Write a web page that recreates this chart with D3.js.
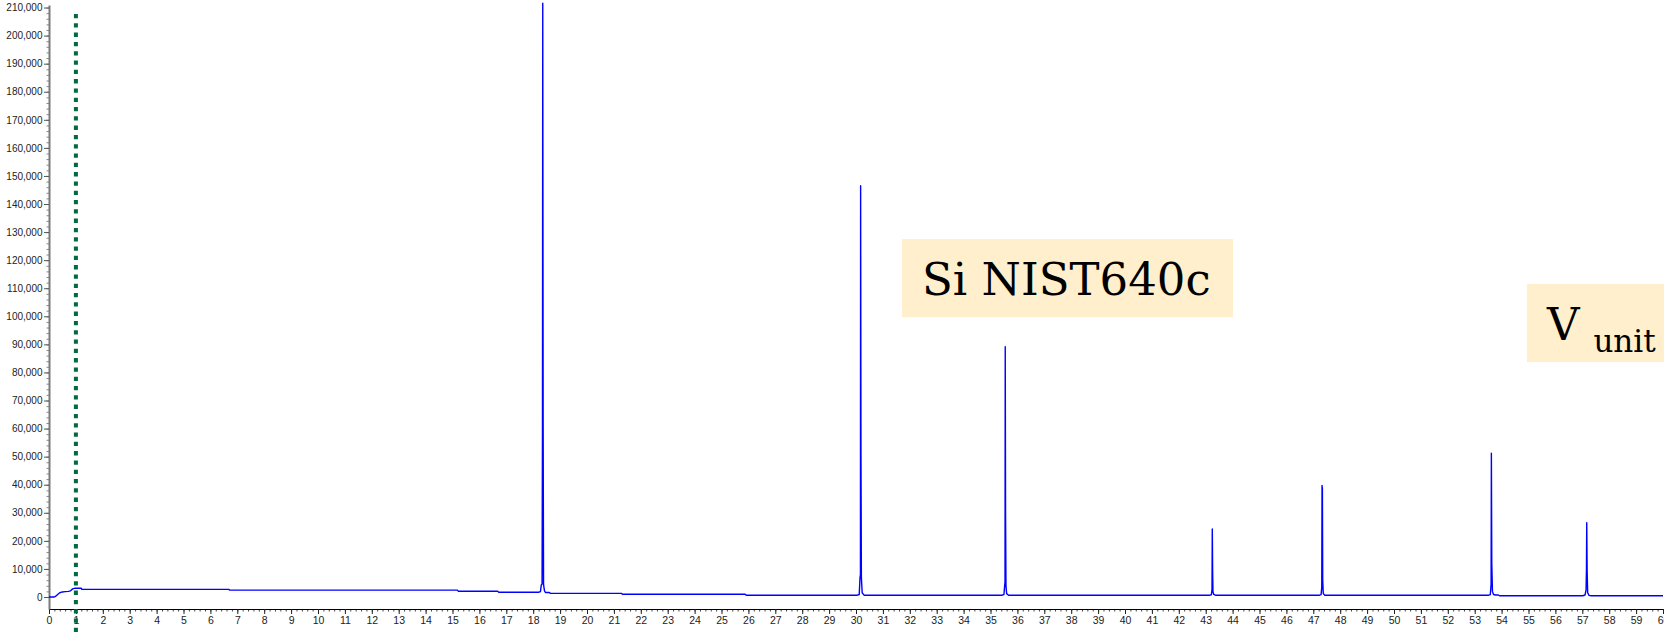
<!DOCTYPE html>
<html>
<head>
<meta charset="utf-8">
<script src="https://cdn.jsdelivr.net/npm/d3@7"></script>
<style>
  html, body { margin: 0; padding: 0; background: #ffffff; }
  svg { display: block; }
</style>
</head>
<body>
<svg id="chart" width="1664" height="634"></svg>
<script>
// Powder diffraction scan: [2θ (deg), intensity (counts)]
const scan = [
  [0, 0], [0.2, 0], [0.25, 300], [0.32, 900], [0.4, 1500], [0.5, 1800], [0.6, 1900],
  [0.72, 2000], [0.8, 2200], [0.88, 2900], [0.95, 3100], [1.2, 3100], [1.22, 2700],
  [6.68, 2700], [6.72, 2450], [15.18, 2450], [15.22, 2050], [16.68, 2050], [16.72, 1700],
  // Si (111)
  [18.2, 1700], [18.27, 1900], [18.3, 4300], [18.33, 4600], [18.345, 60000], [18.355, 211500],
  [18.37, 60000], [18.385, 4400], [18.42, 2200], [18.46, 1600], [18.6, 1600], [18.64, 1300],
  [21.28, 1300], [21.32, 1000], [25.88, 1000], [25.92, 650],
  // Si (220)
  [30.05, 650], [30.12, 900], [30.15, 7000], [30.165, 8000], [30.172, 146500], [30.185, 50000],
  [30.2, 7000], [30.23, 1500], [30.3, 650],
  // Si (311)
  [35.43, 650], [35.5, 900], [35.53, 4500], [35.54, 5200], [35.548, 89200], [35.56, 30000],
  [35.575, 4000], [35.6, 1200], [35.67, 650],
  // Si (400)
  [43.15, 650], [43.21, 800], [43.235, 2600], [43.245, 24200], [43.258, 9000], [43.27, 1800],
  [43.3, 900], [43.36, 650],
  // Si (331)
  [47.23, 650], [47.29, 850], [47.315, 3500], [47.325, 39700], [47.338, 38500], [47.35, 6000],
  [47.37, 1300], [47.42, 650],
  // Si (422)
  [53.52, 650], [53.58, 850], [53.61, 4500], [53.62, 51200], [53.635, 12000], [53.66, 2000],
  [53.7, 900], [53.78, 700], [53.88, 700], [53.92, 450],
  // Si (511)
  [57.02, 450], [57.1, 700], [57.14, 2500], [57.155, 10000], [57.165, 26500], [57.18, 9000],
  [57.2, 1500], [57.25, 600], [57.33, 450], [60, 450]
];

// Axis ticks
const xMajorTicks = d3.range(0, 61, 1);
const xMinorTicks = d3.range(0, 60.01, 0.2);
const yMajorTicks = d3.range(0, 210001, 10000);
const yMinorTicks = d3.range(0, 210001, 2000);

// Vertical marker at 2θ = 1°
const markerX = [1];

// Annotations: [label, subscript, 2θ of box left edge, intensity of box top edge]
const notes = [
  ["Si NIST640c", "", 31.71, 127500],
  ["V", "unit", 54.94, 111500]
];

const svg = d3.select("#chart");
const W = 1664, H = 634;

const x = d3.scaleLinear().domain([0, 60]).range([49, 1663]);
const y = d3.scaleLinear().domain([-4275, 210900]).range([609, 5]);

// x axis (black), major and minor ticks hanging below the line
const gx = svg.append("g").attr("transform", `translate(0,${y.range()[0]})`);
gx.call(d3.axisBottom(x).tickValues(xMinorTicks).tickSize(2.5).tickFormat(""))
  .call(g => g.select(".domain").remove())
  .call(g => g.selectAll(".tick line").attr("stroke", "#444").attr("stroke-width", 1));
const gx2 = svg.append("g").attr("transform", `translate(0,${y.range()[0]})`);
gx2.call(d3.axisBottom(x).tickValues(xMajorTicks).tickSize(5).tickSizeOuter(0).tickPadding(3).tickFormat(d3.format("d")))
  .call(g => g.select(".domain").attr("stroke", "#000").attr("stroke-width", 1.2))
  .call(g => g.selectAll(".tick line").attr("stroke", "#222"))
  .call(g => g.selectAll(".tick text")
      .attr("font-family", "'Liberation Sans', Arial, sans-serif")
      .attr("font-size", "10.5px").attr("fill", "#222"));

// y axis (grey line) with labelled majors and short minors
const gy = svg.append("g").attr("transform", `translate(${x.range()[0]},0)`);
gy.call(d3.axisLeft(y).tickValues(yMinorTicks).tickSize(2.5).tickFormat(""))
  .call(g => g.select(".domain").remove())
  .call(g => g.selectAll(".tick line").attr("stroke", "#888"));
const gy2 = svg.append("g").attr("transform", `translate(${x.range()[0]},0)`);
gy2.call(d3.axisLeft(y).tickValues(yMajorTicks).tickSize(5).tickSizeOuter(0).tickPadding(1.5).tickFormat(d3.format(",")))
  .call(g => g.select(".domain").attr("stroke", "#7a7a7a").attr("stroke-width", 2))
  .call(g => g.selectAll(".tick line").attr("stroke", "#555"))
  .call(g => g.selectAll(".tick text")
      .attr("font-family", "'Liberation Sans', Arial, sans-serif")
      .attr("font-size", "10px").attr("fill", "#222"));

// Diffraction trace
svg.append("defs").append("clipPath").attr("id", "plot-clip")
  .append("rect").attr("x", x.range()[0]).attr("y", 0)
  .attr("width", W - x.range()[0]).attr("height", y.range()[0]);

const line = d3.line().x(d => x(d[0])).y(d => y(d[1]));
svg.append("path")
  .datum(scan)
  .attr("clip-path", "url(#plot-clip)")
  .attr("fill", "none")
  .attr("stroke", "#0000ff")
  .attr("stroke-width", 1.4)
  .attr("stroke-linejoin", "round")
  .attr("d", line);

// Dotted green marker
svg.selectAll(".marker").data(markerX).join("line")
  .attr("class", "marker")
  .attr("x1", d => x(d)).attr("x2", d => x(d))
  .attr("y1", 14).attr("y2", H)
  .attr("stroke", "#006b3c")
  .attr("stroke-width", 4)
  .attr("stroke-dasharray", "4.3 5");

// Annotation boxes
const boxW = 331, boxH = 78;
const gn = svg.selectAll(".note").data(notes).join("g")
  .attr("class", "note")
  .attr("transform", d => `translate(${x(d[2])},${y(d[3])})`);
gn.append("rect")
  .attr("width", boxW).attr("height", boxH)
  .attr("fill", "#ffefcc");
const txt = gn.append("text")
  .attr("x", 20).attr("y", 56)
  .attr("font-family", "'DejaVu Serif', serif")
  .attr("font-size", "45px")
  .attr("fill", "#000");
txt.append("tspan").text(d => d[0]);
txt.filter(d => d[1]).append("tspan")
  .attr("dx", 14).attr("dy", 12)
  .attr("font-size", "31px")
  .text(d => d[1]);
</script>
</body>
</html>
